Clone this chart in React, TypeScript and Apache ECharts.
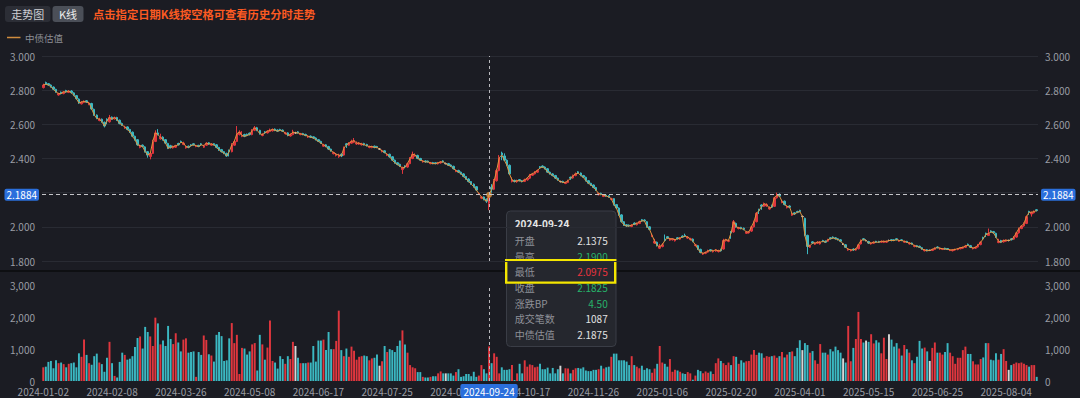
import React, { useEffect, useRef } from 'react';
import * as echarts from 'echarts';

// ---------- calendar ----------
const holidays = ['2024-01-01','2024-02-09','2024-02-12','2024-02-13','2024-02-14','2024-02-15','2024-02-16','2024-04-04','2024-04-05','2024-05-01','2024-05-02','2024-05-03','2024-06-10','2024-09-16','2024-09-17','2024-10-01','2024-10-02','2024-10-03','2024-10-04','2024-10-07','2025-01-01','2025-01-28','2025-01-29','2025-01-30','2025-01-31','2025-02-03','2025-02-04','2025-04-04','2025-05-01','2025-05-02','2025-05-05','2025-06-02'];
const extraTradingDays = ['2024-04-28','2024-09-29','2024-10-12'];
const noTradeDays = ['2024-07-08','2024-09-10','2024-11-01','2024-12-31','2025-03-10','2025-04-30','2025-06-09','2025-07-14'];
const tickLabels = ['2024-01-02','2024-02-08','2024-03-26','2024-05-08','2024-06-17','2024-07-25','2024-09-02','2024-10-17','2024-11-26','2025-01-06','2025-02-20','2025-04-01','2025-05-15','2025-06-25','2025-08-04'];

// ---------- data ----------
const close = [
2.83,2.835,2.83,2.82,2.805,2.79,2.78,2.78,2.79,2.79,
2.795,2.785,2.77,2.75,2.725,2.73,2.735,2.73,2.725,2.69,
2.655,2.635,2.63,2.615,2.59,2.62,2.64,2.63,2.64,2.625,
2.605,2.595,2.585,2.57,2.555,2.53,2.51,2.48,2.475,2.47,
2.44,2.42,2.43,2.5,2.55,2.54,2.525,2.51,2.49,2.46,
2.465,2.47,2.475,2.48,2.495,2.49,2.47,2.465,2.475,2.48,
2.475,2.47,2.48,2.475,2.49,2.485,2.485,2.48,2.465,2.45,
2.44,2.43,2.415,2.44,2.48,2.5,2.545,2.555,2.535,2.53,
2.535,2.54,2.565,2.58,2.565,2.545,2.54,2.55,2.56,2.565,
2.57,2.565,2.56,2.565,2.56,2.55,2.535,2.54,2.555,2.55,
2.55,2.545,2.54,2.535,2.53,2.525,2.52,2.51,2.5,2.49,
2.48,2.47,2.455,2.445,2.435,2.425,2.42,2.415,2.46,2.48,
2.49,2.5,2.505,2.49,2.49,2.485,2.48,2.475,2.47,2.47,
2.465,2.465,2.455,2.445,2.435,2.425,2.41,2.39,2.375,2.365,
2.355,2.345,2.35,2.37,2.4,2.425,2.42,2.4,2.39,2.385,
2.38,2.38,2.375,2.37,2.37,2.375,2.38,2.38,2.37,2.36,
2.355,2.34,2.33,2.32,2.31,2.295,2.28,2.265,2.25,2.235,
2.215,2.195,2.175,2.16,2.15,2.1825,2.22,2.27,2.33,2.405,
2.42,2.39,2.36,2.31,2.275,2.265,2.27,2.27,2.265,2.275,
2.285,2.305,2.31,2.32,2.33,2.345,2.35,2.34,2.32,2.31,
2.3,2.285,2.275,2.265,2.26,2.26,2.27,2.285,2.3,2.31,
2.315,2.3,2.29,2.27,2.255,2.245,2.23,2.215,2.195,2.19,
2.185,2.18,2.175,2.165,2.13,2.11,2.07,2.03,2.01,2.005,
2.005,2.01,2.015,2.02,2.03,2.035,2.035,2.0,1.985,1.95,
1.915,1.89,1.885,1.895,1.92,1.935,1.93,1.93,1.925,1.93,
1.935,1.94,1.945,1.94,1.93,1.915,1.895,1.87,1.85,1.845,
1.85,1.86,1.86,1.86,1.865,1.86,1.86,1.92,1.925,1.92,
1.965,2.03,2.0,1.995,1.99,1.985,1.97,1.97,2.0,2.03,
2.08,2.095,2.12,2.135,2.13,2.11,2.115,2.17,2.185,2.18,
2.15,2.13,2.12,2.115,2.075,2.075,2.085,2.09,2.06,1.95,
1.885,1.89,1.905,1.905,1.91,1.91,1.915,1.91,1.925,1.93,
1.935,1.93,1.925,1.915,1.9,1.88,1.87,1.865,1.865,1.87,
1.895,1.92,1.925,1.92,1.905,1.905,1.91,1.91,1.91,1.915,
1.915,1.915,1.92,1.92,1.92,1.925,1.92,1.92,1.915,1.91,
1.905,1.9,1.89,1.885,1.88,1.87,1.865,1.86,1.862,1.868,
1.875,1.878,1.875,1.872,1.87,1.868,1.865,1.865,1.868,1.872,
1.878,1.88,1.888,1.892,1.88,1.876,1.88,1.895,1.91,1.93,
1.955,1.96,1.97,1.965,1.94,1.915,1.91,1.92,1.922,1.92,
1.925,1.94,1.965,1.99,2.005,2.02,2.06,2.085,2.085,2.09,2.095];

const open = [
2.815,2.845,2.838,2.83,2.818,2.805,2.772,2.788,2.78,2.798,
2.787,2.795,2.784,2.768,2.748,2.72,2.728,2.738,2.718,2.722,
2.688,2.654,2.622,2.63,2.612,2.63,2.615,2.642,2.632,2.64,
2.624,2.605,2.578,2.585,2.57,2.554,2.53,2.51,2.465,2.478,
2.468,2.44,2.412,2.43,2.5,2.55,2.515,2.525,2.51,2.488,
2.475,2.462,2.466,2.488,2.5,2.482,2.462,2.472,2.48,2.486,
2.47,2.477,2.486,2.466,2.478,2.492,2.478,2.487,2.48,2.465,
2.452,2.44,2.43,2.448,2.44,2.478,2.5,2.54,2.53,2.54,
2.542,2.548,2.54,2.565,2.58,2.565,2.535,2.556,2.55,2.558,
2.562,2.572,2.567,2.57,2.566,2.545,2.55,2.532,2.54,2.55,
2.556,2.54,2.546,2.541,2.525,2.531,2.527,2.52,2.51,2.5,
2.472,2.48,2.47,2.455,2.428,2.418,2.41,2.425,2.42,2.486,
2.478,2.49,2.495,2.485,2.484,2.48,2.488,2.482,2.465,2.464,
2.472,2.47,2.455,2.44,2.445,2.418,2.425,2.41,2.39,2.375,
2.366,2.335,2.356,2.35,2.37,2.4,2.415,2.418,2.4,2.38,
2.386,2.385,2.37,2.376,2.375,2.369,2.374,2.386,2.37,2.37,
2.362,2.354,2.324,2.33,2.32,2.31,2.295,2.28,2.265,2.25,
2.235,2.19,2.168,2.175,2.162,2.1375,2.232,2.22,2.27,2.33,
2.432,2.415,2.39,2.36,2.265,2.272,2.264,2.276,2.27,2.266,
2.275,2.285,2.302,2.31,2.32,2.352,2.356,2.35,2.34,2.32,
2.31,2.3,2.285,2.265,2.266,2.254,2.26,2.29,2.286,2.3,
2.322,2.315,2.3,2.29,2.27,2.255,2.245,2.23,2.188,2.196,
2.178,2.186,2.182,2.16,2.165,2.13,2.11,2.07,2.03,2.012,
2.01,2.002,2.022,2.012,2.02,2.042,2.04,2.03,2.0,1.945,
1.905,1.91,1.875,1.885,1.928,1.942,1.922,1.924,1.918,1.936,
1.928,1.946,1.95,1.934,1.925,1.928,1.89,1.89,1.868,1.84,
1.845,1.852,1.866,1.854,1.858,1.855,1.868,1.87,1.918,1.915,
1.972,1.97,2.02,1.99,1.997,1.992,1.962,1.965,1.975,2.0,
2.03,2.102,2.128,2.12,2.122,2.104,2.125,2.12,2.17,2.19,
2.142,2.15,2.112,2.122,2.068,2.082,2.09,2.096,2.06,2.05,
1.95,1.88,1.912,1.898,1.904,1.9,1.92,1.916,1.916,1.936,
1.94,1.936,1.93,1.924,1.9,1.895,1.864,1.86,1.87,1.864,
1.872,1.9,1.93,1.92,1.914,1.9,1.904,1.915,1.914,1.91,
1.909,1.91,1.92,1.925,1.924,1.93,1.915,1.924,1.91,1.915,
1.9,1.905,1.885,1.89,1.886,1.878,1.86,1.866,1.862,1.862,
1.868,1.882,1.87,1.868,1.875,1.873,1.861,1.86,1.864,1.867,
1.872,1.875,1.88,1.898,1.89,1.872,1.875,1.882,1.896,1.938,
1.962,1.95,1.976,1.972,1.962,1.908,1.92,1.912,1.916,1.92,
1.93,1.928,1.94,1.965,1.99,2.005,2.02,2.09,2.075,2.082,2.1];

const high = [
2.838,2.85,2.842,2.834,2.822,2.808,2.785,2.792,2.795,2.802,
2.8,2.8,2.788,2.772,2.752,2.736,2.74,2.742,2.732,2.726,
2.692,2.658,2.638,2.634,2.616,2.635,2.655,2.646,2.645,2.644,
2.628,2.61,2.592,2.588,2.574,2.558,2.534,2.514,2.482,2.482,
2.472,2.444,2.436,2.51,2.565,2.572,2.545,2.53,2.514,2.492,
2.48,2.476,2.48,2.492,2.505,2.498,2.476,2.476,2.484,2.49,
2.48,2.48,2.49,2.48,2.495,2.496,2.49,2.49,2.484,2.468,
2.456,2.444,2.434,2.452,2.49,2.51,2.59,2.565,2.56,2.545,
2.546,2.552,2.572,2.59,2.585,2.568,2.548,2.56,2.565,2.575,
2.576,2.576,2.57,2.574,2.57,2.556,2.554,2.548,2.568,2.556,
2.56,2.55,2.55,2.545,2.536,2.535,2.53,2.524,2.514,2.504,
2.486,2.484,2.474,2.458,2.44,2.432,2.428,2.43,2.47,2.49,
2.496,2.51,2.52,2.5,2.496,2.492,2.492,2.486,2.476,2.475,
2.476,2.474,2.46,2.452,2.448,2.43,2.428,2.414,2.394,2.378,
2.37,2.352,2.36,2.376,2.408,2.44,2.43,2.422,2.404,2.39,
2.39,2.388,2.38,2.38,2.378,2.38,2.385,2.39,2.376,2.374,
2.366,2.358,2.336,2.334,2.324,2.314,2.298,2.284,2.268,2.254,
2.238,2.2,2.18,2.178,2.166,2.19,2.25,2.28,2.34,2.42,
2.44,2.43,2.395,2.365,2.29,2.276,2.276,2.28,2.274,2.282,
2.29,2.31,2.316,2.326,2.336,2.356,2.36,2.354,2.344,2.324,
2.314,2.304,2.288,2.27,2.27,2.265,2.276,2.294,2.306,2.318,
2.326,2.318,2.304,2.294,2.274,2.258,2.248,2.234,2.2,2.2,
2.19,2.19,2.186,2.17,2.168,2.134,2.114,2.074,2.034,2.016,
2.014,2.015,2.026,2.026,2.036,2.046,2.044,2.034,2.004,1.96,
1.93,1.914,1.9,1.905,1.955,1.946,1.936,1.934,1.93,1.94,
1.94,1.95,1.96,1.946,1.936,1.932,1.9,1.894,1.872,1.85,
1.856,1.866,1.87,1.866,1.87,1.866,1.872,1.93,1.93,1.926,
1.976,2.04,2.025,2.0,2.0,1.996,1.976,1.976,2.006,2.036,
2.086,2.106,2.132,2.142,2.138,2.12,2.13,2.176,2.2,2.196,
2.158,2.154,2.126,2.126,2.082,2.086,2.094,2.1,2.066,2.054,
1.954,1.896,1.916,1.91,1.916,1.916,1.924,1.92,1.93,1.94,
1.944,1.94,1.934,1.928,1.906,1.898,1.876,1.87,1.874,1.876,
1.9,1.926,1.934,1.926,1.918,1.91,1.915,1.918,1.918,1.92,
1.92,1.92,1.925,1.928,1.928,1.934,1.925,1.928,1.92,1.918,
1.91,1.908,1.895,1.894,1.89,1.882,1.87,1.87,1.866,1.872,
1.88,1.886,1.88,1.876,1.878,1.876,1.87,1.87,1.872,1.876,
1.882,1.885,1.894,1.902,1.894,1.88,1.885,1.9,1.915,1.942,
1.966,1.99,1.98,1.976,1.966,1.93,1.924,1.926,1.926,1.925,
1.934,1.946,1.97,1.996,2.01,2.026,2.066,2.094,2.09,2.096,2.104];

const low = [
2.81,2.83,2.826,2.815,2.8,2.785,2.768,2.775,2.776,2.785,
2.783,2.78,2.765,2.745,2.72,2.716,2.724,2.726,2.712,2.685,
2.65,2.63,2.618,2.61,2.582,2.6,2.61,2.626,2.628,2.62,
2.6,2.59,2.574,2.565,2.55,2.525,2.505,2.475,2.46,2.465,
2.435,2.405,2.395,2.426,2.496,2.535,2.51,2.505,2.485,2.455,
2.458,2.458,2.462,2.476,2.49,2.478,2.458,2.46,2.47,2.476,
2.466,2.466,2.476,2.462,2.474,2.48,2.474,2.476,2.46,2.445,
2.435,2.425,2.41,2.412,2.436,2.474,2.496,2.535,2.525,2.525,
2.53,2.535,2.536,2.56,2.56,2.54,2.53,2.545,2.546,2.554,
2.558,2.56,2.556,2.56,2.556,2.54,2.53,2.528,2.536,2.545,
2.546,2.536,2.536,2.53,2.52,2.52,2.515,2.506,2.496,2.486,
2.468,2.466,2.45,2.44,2.424,2.412,2.404,2.408,2.416,2.462,
2.474,2.486,2.49,2.48,2.48,2.476,2.476,2.47,2.46,2.46,
2.46,2.46,2.45,2.436,2.43,2.414,2.405,2.385,2.37,2.36,
2.35,2.31,2.342,2.346,2.366,2.396,2.41,2.396,2.386,2.376,
2.376,2.376,2.366,2.366,2.366,2.365,2.37,2.376,2.366,2.356,
2.35,2.336,2.32,2.316,2.306,2.29,2.276,2.26,2.246,2.23,
2.21,2.186,2.162,2.155,2.14,2.0975,2.2,2.215,2.265,2.325,
2.39,2.385,2.355,2.305,2.26,2.26,2.258,2.266,2.26,2.262,
2.27,2.28,2.298,2.306,2.316,2.34,2.345,2.336,2.316,2.306,
2.296,2.28,2.27,2.26,2.256,2.25,2.256,2.275,2.282,2.296,
2.31,2.296,2.286,2.266,2.25,2.24,2.226,2.21,2.184,2.185,
2.174,2.176,2.17,2.155,2.125,2.105,2.065,2.025,2.005,2.0,
2.0,1.998,2.01,2.008,2.016,2.03,2.03,1.995,1.98,1.94,
1.9,1.885,1.87,1.88,1.915,1.93,1.918,1.92,1.914,1.926,
1.924,1.936,1.94,1.93,1.92,1.91,1.886,1.865,1.845,1.835,
1.84,1.848,1.856,1.85,1.854,1.85,1.855,1.866,1.914,1.91,
1.93,1.966,1.995,1.985,1.985,1.98,1.958,1.96,1.97,1.996,
2.026,2.075,2.1,2.116,2.118,2.1,2.11,2.116,2.165,2.176,
2.138,2.126,2.108,2.11,2.064,2.07,2.08,2.085,2.055,1.945,
1.84,1.876,1.9,1.894,1.9,1.896,1.91,1.906,1.912,1.926,
1.93,1.926,1.92,1.91,1.895,1.876,1.86,1.856,1.86,1.86,
1.868,1.896,1.92,1.915,1.9,1.896,1.9,1.906,1.906,1.906,
1.905,1.906,1.915,1.915,1.916,1.92,1.912,1.916,1.906,1.906,
1.896,1.896,1.88,1.88,1.876,1.866,1.856,1.856,1.858,1.858,
1.864,1.874,1.866,1.864,1.866,1.864,1.858,1.856,1.86,1.863,
1.868,1.87,1.876,1.888,1.876,1.868,1.87,1.878,1.892,1.925,
1.94,1.946,1.965,1.96,1.935,1.904,1.905,1.908,1.912,1.915,
1.92,1.924,1.936,1.96,1.986,2.0,2.016,2.07,2.06,2.078,2.09];

const volume = [
430,450,600,630,400,650,560,580,530,430,
540,560,580,430,870,760,1300,820,560,510,
780,860,580,530,290,730,1230,560,160,110,
600,890,820,670,700,780,1070,1350,1400,1020,
1700,1540,1400,1100,1990,1810,1150,1270,1100,1730,
1320,1160,1500,1210,930,1300,1340,890,910,930,
130,910,820,1430,1290,840,800,610,1450,1540,
1410,630,650,1340,1820,1190,1450,220,1040,1020,
830,930,1150,1190,330,1450,1150,670,1050,1900,
630,580,390,780,690,540,780,690,1230,1100,
730,560,560,560,580,580,1100,610,1270,1270,
1300,970,1540,1000,1000,1260,2210,970,780,1020,
760,1080,950,670,760,780,800,780,650,710,
730,830,480,620,1100,910,1000,970,910,1100,
1270,1590,1150,890,500,430,400,280,280,130,
110,110,130,150,150,240,300,240,240,240,
240,170,280,370,130,150,220,220,150,290,
130,170,500,370,240,1087,560,870,760,240,
430,350,350,370,500,30,240,540,240,650,
450,520,500,430,450,540,370,370,420,240,
410,240,370,480,240,400,390,240,350,400,
410,390,430,330,310,310,350,350,370,480,
390,430,450,760,860,860,650,650,650,610,
500,780,500,450,400,480,350,400,370,260,
390,540,1100,580,540,450,690,290,350,330,
290,240,220,280,240,40,170,350,310,240,
300,260,300,220,560,710,630,560,500,580,
500,780,760,540,650,580,620,630,830,970,
820,890,870,730,780,760,780,800,730,780,
910,740,830,910,930,780,1040,1280,970,1190,
1130,890,940,650,540,1160,890,890,830,1000,
930,1080,970,890,710,580,1730,620,1040,1320,
2170,1320,1210,1270,1230,1470,1180,1280,1210,870,
1360,690,1470,1300,1080,1190,1020,800,1130,1000,
890,650,560,760,1260,1020,1050,930,630,1040,
1210,890,890,830,910,1190,890,780,540,730,
730,970,1080,850,850,620,520,520,690,740,
1190,1190,670,650,870,670,850,1000,630,350,
500,540,580,560,580,540,500,450,500,500,130];

const valuation = [
2.83,2.835,2.83,2.82,2.805,2.79,2.78,2.78,2.79,2.79,
2.795,2.785,2.77,2.75,2.725,2.73,2.735,2.73,2.725,2.69,
2.655,2.635,2.63,2.615,2.59,2.62,2.64,2.63,2.64,2.625,
2.605,2.595,2.585,2.57,2.555,2.53,2.51,2.48,2.475,2.47,
2.44,2.42,2.43,2.5,2.55,2.54,2.525,2.51,2.49,2.46,
2.465,2.47,2.475,2.48,2.495,2.49,2.47,2.465,2.475,2.48,
2.475,2.47,2.48,2.475,2.49,2.485,2.485,2.48,2.465,2.45,
2.44,2.43,2.415,2.44,2.48,2.5,2.545,2.555,2.535,2.53,
2.535,2.54,2.565,2.58,2.565,2.545,2.54,2.55,2.56,2.565,
2.57,2.565,2.56,2.565,2.56,2.55,2.535,2.54,2.555,2.55,
2.55,2.545,2.54,2.535,2.53,2.525,2.52,2.51,2.5,2.49,
2.48,2.47,2.455,2.445,2.435,2.425,2.42,2.415,2.46,2.48,
2.49,2.5,2.505,2.49,2.49,2.485,2.48,2.475,2.47,2.47,
2.465,2.465,2.455,2.445,2.435,2.425,2.41,2.39,2.375,2.365,
2.355,2.345,2.35,2.37,2.4,2.425,2.42,2.4,2.39,2.385,
2.38,2.38,2.375,2.37,2.37,2.375,2.38,2.38,2.37,2.36,
2.355,2.34,2.33,2.32,2.31,2.295,2.28,2.265,2.25,2.235,
2.215,2.195,2.175,2.16,2.15,2.1875,2.22,2.27,2.33,2.405,
2.42,2.39,2.36,2.31,2.275,2.265,2.27,2.27,2.265,2.275,
2.285,2.305,2.31,2.32,2.33,2.345,2.35,2.34,2.32,2.31,
2.3,2.285,2.275,2.265,2.26,2.26,2.27,2.285,2.3,2.31,
2.315,2.3,2.29,2.27,2.255,2.245,2.23,2.215,2.195,2.19,
2.185,2.18,2.175,2.165,2.13,2.11,2.07,2.03,2.01,2.005,
2.005,2.01,2.015,2.02,2.03,2.035,2.035,2.0,1.985,1.95,
1.915,1.89,1.885,1.895,1.92,1.935,1.93,1.93,1.925,1.93,
1.935,1.94,1.945,1.94,1.93,1.915,1.895,1.87,1.85,1.845,
1.85,1.86,1.86,1.86,1.865,1.86,1.86,1.92,1.925,1.92,
1.965,2.03,2.0,1.995,1.99,1.985,1.97,1.97,2.0,2.03,
2.08,2.095,2.12,2.135,2.13,2.11,2.115,2.17,2.185,2.18,
2.15,2.13,2.12,2.115,2.075,2.075,2.085,2.09,2.06,1.95,
1.885,1.89,1.905,1.905,1.91,1.91,1.915,1.91,1.925,1.93,
1.935,1.93,1.925,1.915,1.9,1.88,1.87,1.865,1.865,1.87,
1.895,1.92,1.925,1.92,1.905,1.905,1.91,1.91,1.91,1.915,
1.915,1.915,1.92,1.92,1.92,1.925,1.92,1.92,1.915,1.91,
1.905,1.9,1.89,1.885,1.88,1.87,1.865,1.86,1.862,1.868,
1.875,1.878,1.875,1.872,1.87,1.868,1.865,1.865,1.868,1.872,
1.878,1.88,1.888,1.892,1.88,1.876,1.88,1.895,1.91,1.93,
1.955,1.96,1.97,1.965,1.94,1.915,1.91,1.92,1.922,1.92,
1.925,1.94,1.965,1.99,2.005,2.02,2.06,2.085,2.085,2.09,2.095];

const crossIndex = 175;
const crossPrice = 2.1884;

const UP = '#e0363e';
const DOWN = '#3bb8c2';
const FLAT = '#d6d6d6';
const BG = '#1b1c23';
const AXIS_TXT = '#9a9ca4';
const FONT = "'Noto Sans CJK SC', 'Noto Sans', sans-serif";

function buildDates(): string[] {
  const out: string[] = [];
  const start = Date.UTC(2024, 0, 1);
  const end = Date.UTC(2025, 7, 20);
  for (let t = start; t <= end; t += 86400000) {
    const d = new Date(t);
    const s = d.toISOString().slice(0, 10);
    const wd = d.getUTCDay();
    const work = (wd !== 0 && wd !== 6 && !holidays.includes(s)) || extraTradingDays.includes(s);
    if (work && !noTradeDays.includes(s)) out.push(s);
  }
  return out;
}

const thousands = (v: number) => String(v).replace(/\B(?=(\d{3})+(?!\d))/g, ',');

export default function App() {
  const ref = useRef<HTMLDivElement>(null);
  useEffect(() => {
    if (!ref.current) return;
    const chart = echarts.init(ref.current, null, { renderer: 'svg' });
    const dates = buildDates();
    const n = Math.min(dates.length, close.length);
    const cats = dates.slice(0, n);
    const candle = cats.map((_, i) => [open[i], close[i], low[i], high[i]]);
    const vol = cats.map((_, i) => ({
      value: volume[i],
      itemStyle: { color: close[i] > open[i] ? UP : close[i] < open[i] ? DOWN : FLAT },
    }));

    const ci = crossIndex;
    const bp = ((close[ci] - open[ci]) * 100).toFixed(2);
    const cmp = (v: number) => (v > open[ci] ? '#27b26a' : v < open[ci] ? '#e8333e' : '#e2e2e2');
    const rows: [string, string, string][] = [
      ['开盘', open[ci].toFixed(4), '#e2e2e2'],
      ['最高', high[ci].toFixed(4), cmp(high[ci])],
      ['最低', low[ci].toFixed(4), cmp(low[ci])],
      ['收盘', close[ci].toFixed(4), cmp(close[ci])],
      ['涨跌BP', bp, Number(bp) > 0 ? '#27b26a' : '#e8333e'],
      ['成交笔数', String(volume[ci]), '#e2e2e2'],
      ['中债估值', valuation[ci].toFixed(4), '#e2e2e2'],
    ];

    const tipX = 506.5, tipY = 211, tipW = 109.5, tipH = 135.5;
    const graphics: any[] = [
      { type: 'rect', shape: { x: 5, y: 6, width: 45.5, height: 16, r: 3 }, style: { fill: '#2c2e36' } },
      { type: 'text', style: { text: '走势图', x: 27.8, y: 14, fill: '#cfd0d4', fontSize: 11, fontFamily: FONT, align: 'center', verticalAlign: 'middle' } },
      { type: 'rect', shape: { x: 52.5, y: 6, width: 31, height: 16, r: 3 }, style: { fill: '#4b4f58' } },
      { type: 'text', style: { text: 'K线', x: 68, y: 14, fill: '#eeeeee', fontSize: 11, fontFamily: FONT, align: 'center', verticalAlign: 'middle' } },
      { type: 'text', style: { text: '点击指定日期K线按空格可查看历史分时走势', x: 93, y: 14, fill: '#fb5a22', fontSize: 11.3, fontWeight: 'bold', fontFamily: FONT, align: 'left', verticalAlign: 'middle' } },
      { type: 'line', shape: { x1: 7, y1: 37.5, x2: 20.5, y2: 37.5 }, style: { stroke: '#d08c3e', lineWidth: 1.5 } },
      { type: 'text', style: { text: '中债估值', x: 25, y: 37.5, fill: '#8c8e95', fontSize: 9.5, fontFamily: FONT, align: 'left', verticalAlign: 'middle' } },
      { type: 'rect', shape: { x: 0, y: 270, width: 1080, height: 2 }, style: { fill: '#0e0f12' } },
      { type: 'rect', shape: { x: tipX, y: tipY, width: tipW, height: tipH, r: 4 }, style: { fill: '#25272e', stroke: '#3a3d46', lineWidth: 1 } },
      { type: 'text', style: { text: cats[ci], x: 514.7, y: 223.5, fill: '#e6e6e6', fontSize: 10, fontWeight: 'bold', fontFamily: FONT, align: 'left', verticalAlign: 'middle' } },
    ];
    rows.forEach((r, k) => {
      const y = 240.7 + k * 15.6;
      graphics.push({ type: 'text', style: { text: r[0], x: 514.7, y, fill: '#8e9097', fontSize: 10, fontFamily: FONT, align: 'left', verticalAlign: 'middle' } });
      graphics.push({ type: 'text', style: { text: r[1], x: 607.7, y, fill: r[2], fontSize: 10, fontFamily: FONT, align: 'right', verticalAlign: 'middle' } });
    });
    graphics.push({ type: 'rect', shape: { x: 506.2, y: 260.2, width: 109, height: 22.4 }, style: { fill: 'none', stroke: '#f4e600', lineWidth: 2.4 } });

    const pointerLine = { color: '#b9b9bd', type: [3, 3], width: 1 };
    const yLabel = {
      show: true,
      backgroundColor: '#2b6fdc',
      color: '#ffffff',
      fontSize: 10,
      fontFamily: FONT,
      padding: [1, 2],
      borderRadius: 2,
      margin: 3,
      formatter: (p: any) => Number(p.value).toFixed(4),
    };
    // the 2.200 tick label sits under the crosshair price tag in the reference
    const priceLabel = (v: number) => (Math.abs(v - 2.2) < 1e-9 ? '' : v.toFixed(3));
    const baseY = {
      type: 'value',
      axisLine: { show: false },
      axisTick: { show: false },
    };

    chart.setOption({
      backgroundColor: BG,
      animation: false,
      textStyle: { fontFamily: FONT },
      grid: [
        { left: 42, right: 42, top: 56, height: 205 },
        { left: 42, right: 42, top: 285.5, height: 95.5 },
      ],
      xAxis: [
        {
          type: 'category', gridIndex: 0, data: cats, boundaryGap: true,
          axisLine: { show: false }, axisTick: { show: false }, axisLabel: { show: false }, splitLine: { show: false },
          axisPointer: { show: true, type: 'line', value: ci, status: 'show', snap: true, triggerTooltip: false, lineStyle: pointerLine, label: { show: false } },
        },
        {
          type: 'category', gridIndex: 1, data: cats, boundaryGap: true,
          axisLine: { show: false }, axisTick: { show: false }, splitLine: { show: false },
          axisLabel: { color: AXIS_TXT, fontSize: 10, margin: 5, interval: (_i: number, v: string) => tickLabels.includes(v) },
          axisPointer: {
            show: true, type: 'line', value: ci, status: 'show', snap: true, triggerTooltip: false, lineStyle: pointerLine,
            label: { show: true, backgroundColor: '#2b6fdc', color: '#ffffff', fontSize: 10, fontFamily: FONT, padding: [2, 3], borderRadius: 2, margin: 4 },
          },
        },
      ],
      yAxis: [
        {
          ...baseY, gridIndex: 0, position: 'left', min: 1.8, max: 3.0, interval: 0.2,
          axisLabel: { color: AXIS_TXT, fontSize: 10, margin: 7, formatter: priceLabel },
          splitLine: { show: true, lineStyle: { color: '#292b33', width: 1 } },
          axisPointer: { show: true, type: 'line', value: crossPrice, status: 'show', snap: false, triggerTooltip: false, lineStyle: { color: '#c4c4c8', type: [4, 3], width: 1 }, label: yLabel },
        },
        {
          ...baseY, gridIndex: 0, position: 'right', min: 1.8, max: 3.0, interval: 0.2,
          axisLabel: { color: AXIS_TXT, fontSize: 10, margin: 7, formatter: priceLabel },
          splitLine: { show: false },
          axisPointer: { show: true, type: 'line', value: crossPrice, status: 'show', snap: false, triggerTooltip: false, lineStyle: { color: '#c4c4c8', type: [4, 3], width: 1 }, label: yLabel },
        },
        {
          ...baseY, gridIndex: 1, position: 'left', min: 0, max: 3000, interval: 1000,
          axisLabel: { color: AXIS_TXT, fontSize: 10, margin: 7, formatter: (v: number) => thousands(v) },
          splitLine: { show: false },
        },
        {
          ...baseY, gridIndex: 1, position: 'right', min: 0, max: 3000, interval: 1000,
          axisLabel: { color: AXIS_TXT, fontSize: 10, margin: 7, formatter: (v: number) => thousands(v) },
          splitLine: { show: false },
        },
      ],
      series: [
        {
          name: 'K线', type: 'candlestick', xAxisIndex: 0, yAxisIndex: 0, data: candle, barWidth: 2,
          itemStyle: { color: UP, color0: DOWN, borderColor: UP, borderColor0: DOWN, borderColorDoji: FLAT, borderWidth: 1 },
          z: 2,
        },
        {
          name: '中债估值', type: 'line', xAxisIndex: 0, yAxisIndex: 0, data: valuation.slice(0, n),
          symbol: 'none', lineStyle: { color: '#e0963f', width: 1 }, z: 3,
        },
        {
          name: '估值点', type: 'scatter', xAxisIndex: 0, yAxisIndex: 0, data: [[cats[ci], valuation[ci]]],
          symbol: 'circle', symbolSize: 6, itemStyle: { color: '#e0963f' }, z: 4,
        },
        {
          name: '成交笔数', type: 'bar', xAxisIndex: 1, yAxisIndex: 2, data: vol, barWidth: '76%',
        },
      ],
      graphic: graphics,
    });
    return () => chart.dispose();
  }, []);

  return <div ref={ref} style={{ position: 'fixed', left: 0, top: 0, width: 1080, height: 398 }} />;
}
